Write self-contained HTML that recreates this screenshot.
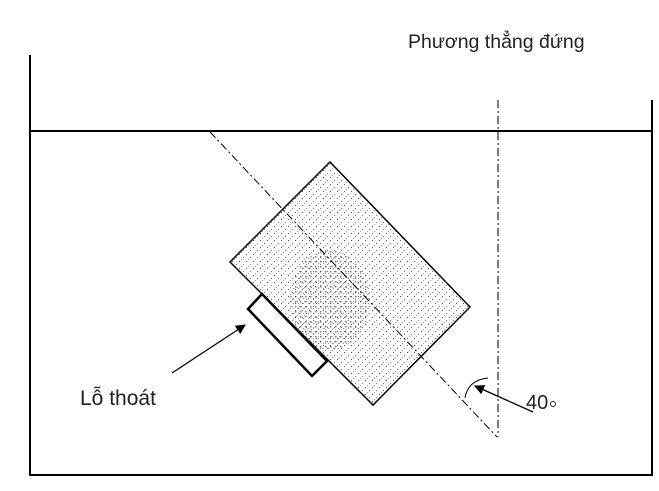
<!DOCTYPE html>
<html><head><meta charset="utf-8"><style>
html,body{margin:0;padding:0;background:#fff;}
svg{display:block}
text{font-family:"Liberation Sans",sans-serif;fill:#222}
</style></head><body>
<svg width="659" height="491" viewBox="0 0 659 491" xmlns="http://www.w3.org/2000/svg">
<defs>
<pattern id="dots" width="7" height="7" patternUnits="userSpaceOnUse">
<rect x="1" y="2" width="1" height="1" fill="#555"/>
<rect x="5" y="5" width="1" height="1" fill="#777"/>
<rect x="3" y="0" width="1" height="1" fill="#999"/>
</pattern>
<pattern id="dots2" width="5" height="5" patternUnits="userSpaceOnUse">
<rect x="0" y="1" width="1.5" height="1.5" fill="#222"/>
<rect x="3" y="3" width="1" height="1" fill="#444"/>
</pattern>
<marker id="ah" markerWidth="10" markerHeight="10" refX="9" refY="5" orient="auto" markerUnits="userSpaceOnUse">
<path d="M0,0 L10,5 L0,10 z" fill="#000"/>
</marker>
</defs>
<g stroke="#000" fill="none">
<path d="M30,55 L30,475 L652,475 L652,100" stroke-width="2"/>
<line x1="30" y1="131" x2="652" y2="131" stroke-width="2"/>
<line x1="498" y1="100" x2="498" y2="437" stroke-width="1" stroke-dasharray="8,3,2,3"/>
<polygon points="330,162 470,307 373,405 230,262" fill="url(#dots)" stroke-width="1.5"/>
<ellipse cx="330" cy="300" rx="40" ry="50" fill="url(#dots2)" stroke="none" opacity="0.6"/>
<line x1="210" y1="132" x2="497" y2="437" stroke-width="1" stroke-dasharray="8,3,2,3"/>
<polygon points="262,294 327,361 312,376 248,309" fill="#fff" stroke-width="2.5"/>
<line x1="172" y1="373" x2="245" y2="325" stroke-width="1.3" marker-end="url(#ah)"/>
<path d="M465,398 Q468,380 488,378" stroke-width="1"/>
<line x1="533" y1="412" x2="475" y2="386" stroke-width="1.3" marker-end="url(#ah)"/>
</g>
<text x="408" y="48" font-size="19.5">Phương thẳng đứng</text>
<text x="80" y="405" font-size="21">Lỗ thoát</text>
<text x="526" y="409" font-size="20">40</text>
<circle cx="553" cy="404" r="2.5" fill="none" stroke="#222"/>
</svg>
</body></html>
